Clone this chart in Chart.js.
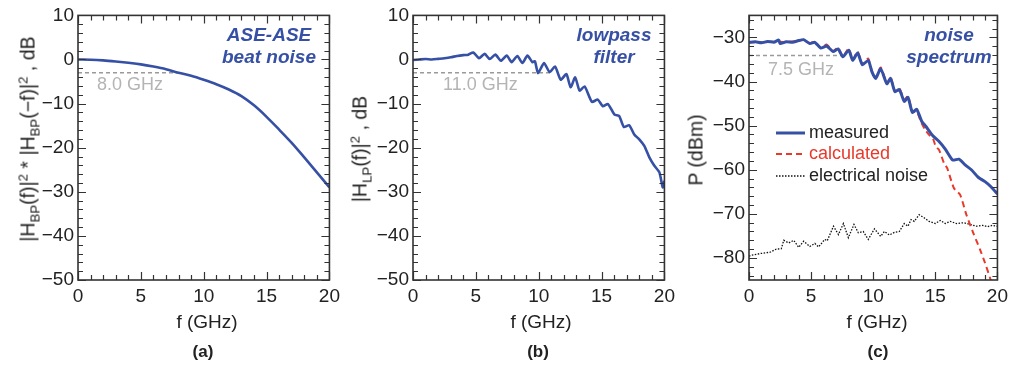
<!DOCTYPE html>
<html>
<head>
<meta charset="utf-8">
<script src="https://cdn.jsdelivr.net/npm/chart.js@4.4.0/dist/chart.umd.min.js"></script>
<style>
  body { margin: 0; background: #fff; font-family: 'Liberation Sans', Arial, sans-serif; color: #222; }
  #wrap { position: relative; width: 1013px; height: 365px; overflow: hidden; }
  canvas { position: absolute; top: 0; }
  .lbl { position: absolute; white-space: nowrap; font-size: 19px; transform: translate(-50%, -50%); }
  .ytitle { transform: translate(-50%, -50%) rotate(-90deg); font-size: 19.5px; }
  .cap { font-weight: bold; font-size: 17px; }
  sub, sup { font-size: 0.68em; line-height: 0; }
</style>
</head>
<body>
<div id="wrap">
  <canvas id="chart-a" width="345" height="365" style="left:0px"></canvas>
  <canvas id="chart-b" width="345" height="365" style="left:335px"></canvas>
  <canvas id="chart-c" width="342" height="365" style="left:671px"></canvas>

  <div class="lbl ytitle" style="left:28px; top:139px">|H<sub>BP</sub>(f)|<sup>2</sup> * |H<sub>BP</sub>(−f)|<sup>2</sup> , dB</div>
  <div class="lbl ytitle" style="left:360px; top:149px">|H<sub>LP</sub>(f)|<sup>2</sup> , dB</div>
  <div class="lbl ytitle" style="left:696px; top:150px">P (dBm)</div>

  <div class="lbl" style="left:207px; top:322px">f (GHz)</div>
  <div class="lbl" style="left:541px; top:322px">f (GHz)</div>
  <div class="lbl" style="left:877px; top:322px">f (GHz)</div>

  <div class="lbl cap" style="left:203px; top:352px">(a)</div>
  <div class="lbl cap" style="left:538px; top:352px">(b)</div>
  <div class="lbl cap" style="left:878px; top:352px">(c)</div>
</div>
<script>
'use strict';

// DATA

let freqTicks = [0, 5, 10, 15, 20];
let gainTicks = [-50, -40, -30, -20, -10, 0, 10];
let powerTicks = [-80, -70, -60, -50, -40, -30];

// (a) ASE-ASE beat noise
let aFreq = [0, 1, 2, 3, 4, 5, 6, 7, 8, 9, 10, 11, 12, 13, 14, 15, 16, 17, 18, 19, 20];
let aGain = [0, -0.05, -0.2, -0.45, -0.75, -1.1, -1.6, -2.2, -3.0, -3.7, -4.6, -5.6, -6.8, -8.3, -10.4, -13.0, -15.9, -18.9, -22.2, -25.6, -29.0];
let aCutFreq = [0, 8];
let aCutGain = [-3, -3];

// (b) lowpass filter
let bFreq = [0, 0.5, 1, 1.5, 2, 2.5, 3, 3.5, 4, 4.4, 4.8, 5.25, 5.7, 6.1, 6.55, 7.0, 7.45, 7.85, 8.3, 8.7,
  9.1, 9.5, 9.7, 9.95, 10.42, 10.87, 11.3, 11.75, 12.2, 12.54, 12.9, 13.25, 13.65, 14.23, 14.7, 15.1, 15.5,
  16.03, 16.4, 16.77, 17.2, 17.6, 18.0, 18.4, 18.8, 19.2, 19.6, 19.87, 20];
let bGain = [-0.1, 0.0, 0.1, 0.0, 0.15, 0.3, 0.5, 0.8, 1.0, 1.1, 1.6, 0.3, 1.3, 0.1, 1.1, -0.3, 0.9, -0.6, 0.8, -0.8,
  0.9, -0.6, -0.4, -3.1, -0.8, -2.85, -1.6, -4.6, -3.3, -6.3, -4.05, -7.05, -6.1, -9.6, -9.1, -10.6, -10.1,
  -12.5, -12.8, -15.3, -14.9, -17.0, -18.1, -19.6, -22.2, -24.1, -25.6, -29.0, -27.5];
let bCutFreq = [0, 11];
let bCutGain = [-3, -3];

// (c) noise spectrum
let cMeasFreq = [0, 0.5, 1, 1.5, 2, 2.4, 2.5, 3, 3.5, 4, 4.4, 4.9, 5.3, 5.77, 6.25, 6.77, 7.17, 7.56, 8.03, 8.35,
  8.74, 9.13, 9.6, 9.9, 10.2, 10.6, 11.1, 11.4, 11.75, 12.1, 12.5, 12.8, 13.15, 13.5, 13.9, 14.25, 14.8, 15.3,
  15.8, 16.4, 16.9, 17.4, 17.9, 18.45, 19, 19.5, 20];
let cMeas = [-31.1, -31.0, -31.2, -30.9, -31.1, -30.6, -31.4, -31.0, -31.1, -30.7, -30.5, -31.4, -31.1, -32.4, -31.95, -33.2, -32.6, -34.4, -32.9, -35.2,
  -33.5, -36.2, -35.2, -37.8, -39.3, -37.1, -40.5, -39.3, -42.3, -41.8, -44.5, -43.6, -47.0, -46.3, -49.0, -50.2, -52.3, -53.6,
  -55.3, -57.8, -57.6, -58.9, -60.0, -61.7, -62.7, -63.9, -65.5];

let cCalcFreq = [0, 1, 2, 3, 4, 4.4, 4.9, 5.3, 5.77, 6.25, 6.77, 7.17, 7.56, 8.03, 8.35, 8.74, 9.13, 9.6, 9.9, 10.2,
  10.6, 11.1, 11.4, 11.75, 12.1, 12.5, 12.8, 13.15, 13.5, 13.9, 14.2, 14.5, 14.8, 15.05, 15.3, 15.7, 15.95,
  16.5, 17.0, 17.5, 18.05, 18.6, 19.0, 19.45, 20];
let cCalc = [-31.1, -31.1, -31.0, -31.0, -30.8, -30.5, -31.3, -31.0, -32.3, -31.6, -33.1, -32.3, -34.3, -32.5, -35.1, -33.2, -36.1, -34.8, -37.7, -39.2,
  -36.8, -40.4, -39.0, -42.2, -41.5, -44.1, -43.3, -46.9, -46.8, -49.5, -51.0, -52.1, -52.9, -54.8, -55.5, -58.5, -59.6,
  -64.2, -65.7, -70.2, -74.3, -78.1, -81.1, -84.9, -89.0];

let cNoiseFreq = [0, 0.2, 0.9, 1.7, 2.2, 2.6, 2.8, 3.2, 3.6, 4.0, 4.4, 4.9, 5.3, 5.6, 6.1, 6.3, 6.8, 7.2, 7.6, 8.0,
  8.45, 8.8, 9.2, 9.6, 10.1, 10.6, 10.9, 11.3, 11.7, 12.1, 12.5, 12.8, 13.05, 13.3, 13.7, 14.1, 14.5, 15.0,
  15.4, 15.8, 16.2, 16.7, 17.3, 17.8, 18.3, 18.8, 19.2, 19.6, 20];
let cNoise = [-79.6, -79.4, -79.0, -78.7, -78.0, -77.9, -76.0, -76.6, -76.0, -77.6, -76.2, -77.4, -76.7, -77.5, -75.8, -76.1, -72.8, -74.7, -72.2, -75.4,
  -72.4, -74.3, -74.0, -75.8, -73.4, -75.1, -74.0, -74.8, -74.2, -74.0, -72.2, -72.8, -71.3, -71.7, -70.2, -70.9, -71.7, -72.2,
  -71.5, -72.2, -71.7, -72.2, -72.0, -72.4, -72.8, -72.6, -72.9, -72.6, -72.8];
let cCutFreq = [0, 7.5];
let cCutPower = [-34.1, -34.1];

// HELPERS

const BLUE = '#3550a5';
const RED = '#e8392b';
const GRAY = '#b4b4b4';
const INK = '#222';

function pts(xs, ys) {
  return xs.map((x, i) => ({ x: x, y: ys[i] }));
}

function minusSign(v) {
  return String(v).replace('-', '\u2212');
}

// frame + inward ticks on all four sides
const frameTicks = {
  id: 'frameTicks',
  afterDatasetsDraw(chart, args, opts) {
    const { ctx, chartArea: a, scales: { x, y } } = chart;
    ctx.save();
    ctx.strokeStyle = '#333';
    ctx.lineWidth = 1.2;
    ctx.beginPath();
    for (let v = x.min; v <= x.max + 1e-6; v += opts.xMinor) {
      const px = Math.round(x.getPixelForValue(v)) + 0.5;
      const len = Math.abs(v / opts.xMajor - Math.round(v / opts.xMajor)) < 1e-6 ? 8 : 5;
      ctx.moveTo(px, a.bottom); ctx.lineTo(px, a.bottom - len);
      ctx.moveTo(px, a.top); ctx.lineTo(px, a.top + len);
    }
    for (let v = Math.ceil(y.min / opts.yMinor) * opts.yMinor; v <= y.max + 1e-6; v += opts.yMinor) {
      const py = Math.round(y.getPixelForValue(v)) + 0.5;
      const len = Math.abs(v / opts.yMajor - Math.round(v / opts.yMajor)) < 1e-6 ? 8 : 5;
      ctx.moveTo(a.left, py); ctx.lineTo(a.left + len, py);
      ctx.moveTo(a.right, py); ctx.lineTo(a.right - len, py);
    }
    ctx.stroke();
    ctx.lineWidth = 1.6;
    ctx.strokeRect(a.left, a.top, a.width, a.height);
    ctx.restore();
  }
};

// blue titles, gray cutoff label, legend
const notes = {
  id: 'notes',
  afterDraw(chart, args, opts) {
    const ctx = chart.ctx;
    ctx.save();
    ctx.textBaseline = 'middle';
    ctx.textAlign = 'center';
    ctx.fillStyle = BLUE;
    ctx.font = 'italic bold 19px "Liberation Sans", Arial, sans-serif';
    opts.title.forEach((t, i) => ctx.fillText(t, opts.titleX, opts.titleY[i]));

    ctx.textAlign = 'left';
    ctx.fillStyle = GRAY;
    ctx.font = '18px "Liberation Sans", Arial, sans-serif';
    ctx.fillText(opts.cut, opts.cutX, opts.cutY);

    if (opts.legend) {
      opts.legend.forEach((item, i) => {
        const yy = opts.legendY[i];
        ctx.beginPath();
        ctx.strokeStyle = item.color;
        ctx.lineWidth = item.width;
        ctx.setLineDash(item.dash);
        ctx.moveTo(opts.legendX, yy);
        ctx.lineTo(opts.legendX + 29, yy);
        ctx.stroke();
        ctx.setLineDash([]);
        ctx.fillStyle = item.text;
        ctx.font = '18px "Liberation Sans", Arial, sans-serif';
        ctx.fillText(item.label, opts.legendX + 33, yy);
      });
    }
    ctx.restore();
  }
};

function makePanel(id, datasets, yMin, yMax, yTicks, padRight, noteOpts) {
  return new Chart(document.getElementById(id), {
    type: 'line',
    data: { datasets: datasets },
    options: {
      responsive: false,
      animation: false,
      layout: { padding: { top: 14, right: padRight, left: 0, bottom: 0 } },
      elements: { point: { radius: 0 } },
      plugins: {
        legend: { display: false },
        tooltip: { enabled: false },
        frameTicks: { xMinor: 1, xMajor: 5, yMinor: 2, yMajor: 10 },
        notes: noteOpts
      },
      scales: {
        x: {
          type: 'linear', min: 0, max: 20,
          afterBuildTicks: s => { s.ticks = freqTicks.map(v => ({ value: v })); },
          afterFit: s => { s.height = 85; },
          grid: { display: false, drawTicks: false },
          border: { display: false },
          ticks: { color: INK, padding: 5, maxRotation: 0, font: { family: 'Liberation Sans', size: 19 } }
        },
        y: {
          type: 'linear', min: yMin, max: yMax,
          afterBuildTicks: s => { s.ticks = yTicks.map(v => ({ value: v })); },
          afterFit: s => { s.width = 78; },
          grid: { display: false, drawTicks: false },
          border: { display: false },
          ticks: { color: INK, padding: 4, callback: minusSign, font: { family: 'Liberation Sans', size: 19 } }
        }
      }
    },
    plugins: [frameTicks, notes]
  });
}

const cutStyle = { borderColor: '#9a9a9a', borderWidth: 1.4, borderDash: [4, 3] };

makePanel('chart-a', [
  { data: pts(aFreq, aGain), borderColor: BLUE, borderWidth: 2.6, tension: 0.4, cubicInterpolationMode: 'monotone' },
  Object.assign({ data: pts(aCutFreq, aCutGain) }, cutStyle)
], -50, 10, gainTicks, 13, {
  title: ['ASE-ASE', 'beat noise'], titleX: 269, titleY: [36, 58],
  cut: '8.0 GHz', cutX: 97, cutY: 85
});

makePanel('chart-b', [
  { data: pts(bFreq, bGain), borderColor: BLUE, borderWidth: 2.6, tension: 0.2 },
  Object.assign({ data: pts(bCutFreq, bCutGain) }, cutStyle)
], -50, 10, gainTicks, 15, {
  title: ['lowpass', 'filter'], titleX: 279, titleY: [36, 58],
  cut: '11.0 GHz', cutX: 108, cutY: 85
});

makePanel('chart-c', [
  { data: pts(cMeasFreq, cMeas), borderColor: BLUE, borderWidth: 3, tension: 0.2 },
  { data: pts(cCalcFreq, cCalc), borderColor: RED, borderWidth: 2, borderDash: [6, 4], tension: 0.2 },
  { data: pts(cNoiseFreq, cNoise), borderColor: '#111', borderWidth: 1.3, borderDash: [1.5, 1.5], tension: 0 },
  Object.assign({ data: pts(cCutFreq, cCutPower) }, cutStyle)
], -85, -25, powerTicks, 10, {
  title: ['noise', 'spectrum'], titleX: 278, titleY: [36, 58],
  cut: '7.5 GHz', cutX: 97, cutY: 70,
  legendX: 105, legendY: [133, 154, 176],
  legend: [
    { label: 'measured', color: BLUE, width: 3, dash: [], text: INK },
    { label: 'calculated', color: RED, width: 2, dash: [6, 4], text: RED },
    { label: 'electrical noise', color: '#111', width: 1.3, dash: [1.5, 1.5], text: INK }
  ]
});
</script>
</body>
</html>
